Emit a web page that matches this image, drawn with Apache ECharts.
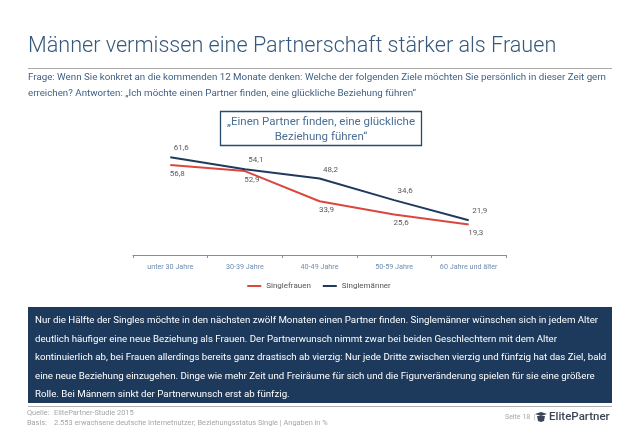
<!DOCTYPE html>
<html><head><meta charset="utf-8">
<script src="https://cdn.jsdelivr.net/npm/echarts@6/dist/echarts.min.js"></script>
<style>html,body{margin:0;padding:0;background:#fff}#c{width:638px;height:442px}</style>
</head><body><div id="c"></div>
<script>
const categories = ['unter 30 Jahre', '30-39 Jahre', '40-49 Jahre', '50-59 Jahre', '60 Jahre und älter'];
const singlefrauen = [56.8, 52.9, 33.9, 25.6, 19.3];
const singlemaenner = [61.6, 54.1, 48.2, 34.6, 21.9];
const seriesNames = ['Singlefrauen', 'Singlemänner'];
const titleText = 'Männer vermissen eine Partnerschaft stärker als Frauen';
const questionLines = [
  'Frage: Wenn Sie konkret an die kommenden 12 Monate denken: Welche der folgenden Ziele möchten Sie persönlich in dieser Zeit gern',
  'erreichen? Antworten: „Ich möchte einen Partner finden, eine glückliche Beziehung führen“'
];
const boxTitleLines = ['„Einen Partner finden, eine glückliche', 'Beziehung führen“'];
const paragraphLines = [
  'Nur die Hälfte der Singles möchte in den nächsten zwölf Monaten einen Partner finden. Singlemänner wünschen sich in jedem Alter',
  'deutlich häufiger eine neue Beziehung als Frauen. Der Partnerwunsch nimmt zwar bei beiden Geschlechtern mit dem Alter',
  'kontinuierlich ab, bei Frauen allerdings bereits ganz drastisch ab vierzig: Nur jede Dritte zwischen vierzig und fünfzig hat das Ziel, bald',
  'eine neue Beziehung einzugehen. Dinge wie mehr Zeit und Freiräume für sich und die Figurveränderung spielen für sie eine größere',
  'Rolle. Bei Männern sinkt der Partnerwunsch erst ab fünfzig.'
];
const footerLabels = ['Quelle:', 'Basis:'];
const footerValues = ['ElitePartner-Studie 2015', '2.553 erwachsene deutsche Internetnutzer; Beziehungsstatus Single | Angaben in %'];
const pageText = 'Seite 18  |';
const logoText = 'ElitePartner';

const fmt = v => String(v).replace('.', ',');
const RED = '#d9473f', NAVY = '#1f3a5c';
const F = 'Roboto, "Noto Sans", sans-serif';

const chart = echarts.init(document.getElementById('c'), null, {renderer: 'canvas'});
const graphics = [];
graphics.push({type: 'text', left: 28, top: 36, style: {text: titleText, font: '300 21.6px ' + F, fill: '#36587c'}});
graphics.push({type: 'rect', shape: {x: 28, y: 68, width: 584, height: 0.8}, style: {fill: '#8c8c8c'}});
questionLines.forEach((t, i) => graphics.push({type: 'text', left: 28, top: 73 + i * 15.5, style: {text: t, font: '9.75px ' + F, fill: '#3e5f82'}}));
graphics.push({type: 'rect', shape: {x: 220.5, y: 111.5, width: 201, height: 34}, style: {fill: '#fff', stroke: '#2b4a6b', lineWidth: 1.3}});
boxTitleLines.forEach((t, i) => graphics.push({type: 'text', x: 321, y: 122 + i * 15, style: {text: t, font: '11.5px ' + F, fill: '#4b6f95', textAlign: 'center', textVerticalAlign: 'middle'}}));
graphics.push({type: 'rect', shape: {x: 28, y: 307, width: 584, height: 96}, style: {fill: '#1d3a5c'}});
paragraphLines.forEach((t, i) => graphics.push({type: 'text', left: 35, top: 316 + i * 18.4, style: {text: t, font: '9.7px ' + F, fill: '#ffffff'}}));
graphics.push({type: 'rect', shape: {x: 28, y: 406, width: 584, height: 0.8}, style: {fill: '#9a9a9a'}});
footerLabels.forEach((t, i) => {
  graphics.push({type: 'text', left: 27, top: 410 + i * 9.5, style: {text: t, font: '7.4px ' + F, fill: '#a6a6a6'}});
  graphics.push({type: 'text', left: 54, top: 410 + i * 9.5, style: {text: footerValues[i], font: '7.4px ' + F, fill: '#a6a6a6'}});
});
graphics.push({type: 'text', left: 505, top: 414, style: {text: pageText, font: '7px ' + F, fill: '#a6a6a6'}});
graphics.push({type: 'polygon', shape: {points: [[535, 414], [541, 412], [547, 414], [541, 416]]}, style: {fill: '#3a4656'}});
graphics.push({type: 'polygon', shape: {points: [[537, 416], [545, 416], [544, 421], [541, 422], [538, 421]]}, style: {fill: '#3a4656'}});
graphics.push({type: 'text', left: 549, top: 411, style: {text: logoText, font: '500 11.5px ' + F, fill: '#3a4656'}});

chart.setOption({
  animation: false,
  backgroundColor: '#fff',
  grid: {left: 133, right: 132, top: 144, bottom: 187},
  legend: {
    data: seriesNames, bottom: 147, left: 'center', itemWidth: 14, itemHeight: 2, itemGap: 12, icon: 'rect',
    textStyle: {fontSize: 8, color: '#555', fontFamily: F}
  },
  xAxis: {
    type: 'category', data: categories, boundaryGap: true,
    axisLine: {lineStyle: {color: '#8c8c8c', width: 1}},
    axisTick: {show: true, length: 3, lineStyle: {color: '#8c8c8c'}},
    axisLabel: {fontSize: 7.2, color: '#6f8db0', margin: 9, interval: 0, fontFamily: F}
  },
  yAxis: {type: 'value', min: 0, max: 70, show: false, splitLine: {show: false}},
  series: [
    {
      name: seriesNames[0], type: 'line', data: singlefrauen, symbol: 'circle', symbolSize: 0, showSymbol: true,
      lineStyle: {color: RED, width: 2}, itemStyle: {color: RED},
      label: {show: true, position: 'bottom', distance: 3, offset: [7, 2], formatter: p => fmt(p.value), fontSize: 8, color: '#595959', fontFamily: F}
    },
    {
      name: seriesNames[1], type: 'line', data: singlemaenner, symbol: 'circle', symbolSize: 0, showSymbol: true,
      lineStyle: {color: NAVY, width: 2}, itemStyle: {color: NAVY},
      label: {show: true, position: 'top', distance: 4, offset: [11, -1], formatter: p => fmt(p.value), fontSize: 8, color: '#595959', fontFamily: F}
    }
  ],
  graphic: graphics
});
</script></body></html>
